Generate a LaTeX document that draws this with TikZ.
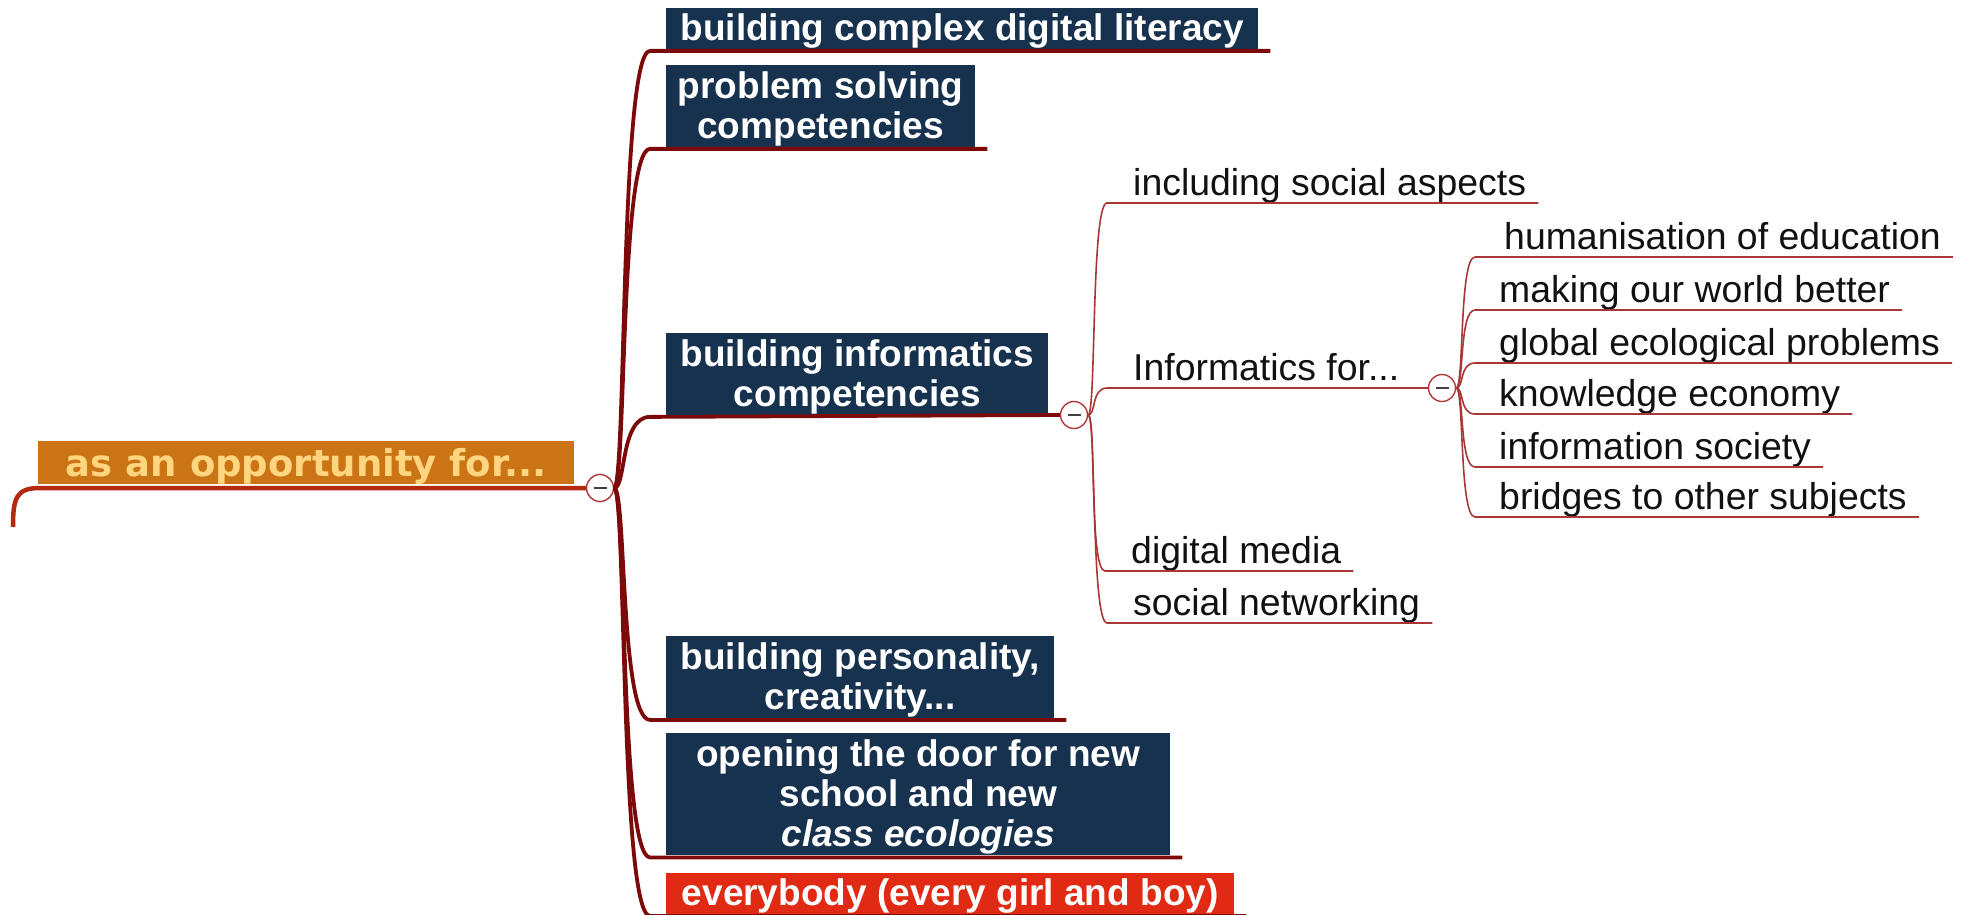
\documentclass[tikz,border=0pt]{standalone}
\usepackage{fontspec}
\setmainfont{Liberation Sans}
\newfontfamily\rootfont{DejaVu Sans}
\usetikzlibrary{calc}
\definecolor{navy}{HTML}{17324F}
\definecolor{boxred}{HTML}{E12A14}
\definecolor{rootorange}{HTML}{CB7415}
\definecolor{roottext}{HTML}{FFD67F}
\definecolor{maroon}{HTML}{7D0A0A}
\definecolor{rootline}{HTML}{B42A10}
\definecolor{thinred}{HTML}{A83838}
\definecolor{circred}{HTML}{B03A3A}
\definecolor{leaftext}{HTML}{111111}
\newcommand{\tzup}[1]{\rule{0pt}{#1}}
\newcommand{\tzdn}[1]{\rule[-#1]{0pt}{#1}}
\begin{document}
\begin{tikzpicture}[x=1pt,y=-1pt,
  topic/.style={fill=navy, text=white, font=\fontsize{37}{40}\selectfont\bfseries,
    align=center, anchor=north west, inner xsep=4pt, inner ysep=0pt},
  roottopic/.style={fill=rootorange, text=roottext, font=\fontsize{37}{40}\selectfont\rootfont\bfseries,
    anchor=north west, inner sep=0pt, minimum width=536pt, minimum height=43pt},
  leaf/.style={text=leaftext, font=\fontsize{37.4}{40}\selectfont, anchor=base west, inner sep=0pt},
  collapse/.style={circle, draw=circred, fill=white, line width=1.4pt, minimum size=27pt, inner sep=0pt,
    path picture={\draw[line width=1.5pt, black!75]
      ([xshift=-6.5pt]path picture bounding box.center) -- ([xshift=6.5pt]path picture bounding box.center);}},
  trunk/.style={draw=maroon, line width=3.8pt, line join=round},
  rootstroke/.style={draw=rootline, line width=4.5pt, line join=round},
  branch/.style={draw=thinred, line width=1.6pt}
]
\useasboundingbox (0,0) rectangle (1968,915);

% root
\node[roottopic] (root) at (38,441) {\tzup{35pt}as an opportunity for...\tzdn{8pt}};
\node[collapse] (c0) at (600,488) {};
\coordinate (rs) at (13,527);
\draw[rootstroke] (rs) .. controls (13,498) and (16,488) .. (40,488) -- (c0.west);

% level 1
\node[topic, minimum width=592pt] (b1) at (666,8) {\tzup{32.5pt}building complex digital literacy\tzdn{8pt}};
\node[topic, minimum width=309pt] (b2) at (666,65) {\tzup{33.5pt}problem solving\\competencies\tzdn{8pt}};
\node[topic, minimum width=382pt] (b3) at (666,333) {\tzup{33.5pt}building informatics\\competencies\tzdn{8pt}};
\node[topic, minimum width=388pt] (b4) at (666,636) {\tzup{33.5pt}building personality,\\creativity...\tzdn{8pt}};
\node[topic, minimum width=504pt] (b5) at (666,733) {\tzup{33.5pt}opening the door for new\\school and new\\\textit{class ecologies}\tzdn{8.5pt}};
\node[topic, fill=boxred, minimum width=568pt] (b6) at (666,873) {\tzup{32.5pt}everybody (every girl and boy)\tzdn{8pt}};
\node[collapse] (c1) at (1074,415) {};

\foreach \b in {b1,b2,b4,b5,b6}{
  \draw[trunk] (c0.east) .. controls +(12,0) and +(-30,0) .. ([xshift=-16pt,yshift=-2pt]\b.south west)
    -- ([xshift=12pt,yshift=-2pt]\b.south east);
}
\draw[trunk] (c0.east) .. controls +(12,0) and +(-30,0) .. ([xshift=-16pt,yshift=-2pt]b3.south west)
  -- (c1.west);

% level 2
\node[leaf] (l1) at (1133,195) {including social aspects};
\node[leaf] (l2) at (1133,380) {Informatics for...};
\node[leaf] (l3) at (1131,563) {digital media};
\node[leaf] (l4) at (1133,615) {social networking};
\node[collapse] (c2) at (1442,388) {};

\foreach \l in {l1,l3,l4}{
  \draw[branch] (c1.east) .. controls +(8,0) and +(-16,0) .. ($(\l.base west)+(-26,8)$)
    -- ($(\l.base east)+(12,8)$);
}
\draw[branch] (c1.east) .. controls +(8,0) and +(-16,0) .. ($(l2.base west)+(-26,8)$) -- (c2.west);

% level 3
\node[leaf] (m1) at (1504,249) {humanisation of education};
\node[leaf] (m2) at (1499,302) {making our world better};
\node[leaf] (m3) at (1499,355) {global ecological problems};
\node[leaf] (m4) at (1499,406) {knowledge economy};
\node[leaf] (m5) at (1499,459) {information society};
\node[leaf] (m6) at (1499,509) {bridges to other subjects};

\foreach \m in {m2,m3,m4,m5,m6}{
  \draw[branch] (c2.east) .. controls +(8,0) and +(-16,0) .. ($(\m.base west)+(-24,8)$)
    -- ($(\m.base east)+(12,8)$);
}
\draw[branch] (c2.east) .. controls +(8,0) and +(-16,0) .. ($(m1.base west)+(-29,8)$)
    -- ($(m1.base east)+(12,8)$);
\end{tikzpicture}
\end{document}
